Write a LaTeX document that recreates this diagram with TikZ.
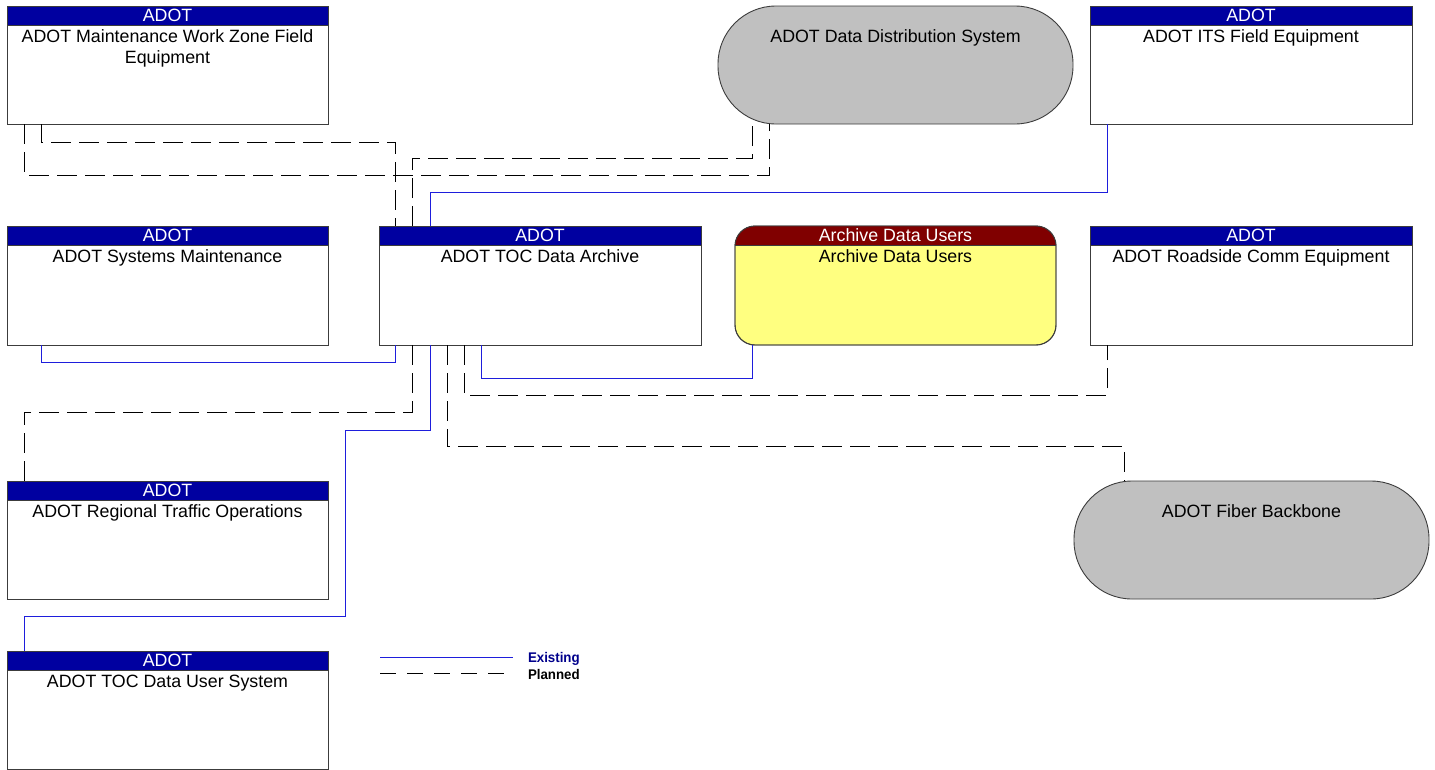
\documentclass[tikz,border=0pt]{standalone}
\usepackage{fontspec}
\setmainfont{Liberation Sans}
\usetikzlibrary{calc}
\definecolor{hdrblue}{RGB}{0,0,160}
\definecolor{hdrred}{RGB}{128,0,0}
\definecolor{yel}{RGB}{255,255,128}
\definecolor{gry}{RGB}{192,192,192}
\definecolor{bord}{RGB}{60,60,60}
\definecolor{linkblue}{RGB}{30,30,220}
\definecolor{legblue}{RGB}{0,0,140}
\begin{document}
\begin{tikzpicture}[x=1pt,y=-1pt,
  every node/.style={inner sep=0pt,outer sep=0pt},
  box/.style={draw=bord,line width=0.9pt,fill=white,anchor=north west,minimum width=#1,minimum height=118pt},
  box/.default=321pt,
  pill/.style={draw=bord,line width=0.9pt,fill=gry,anchor=north west,minimum width=355pt,minimum height=118pt,rounded corners=58pt},
  hdr/.style={draw=bord,line width=0.9pt,fill=hdrblue,anchor=north west,minimum width=#1,minimum height=19pt},
  hdr/.default=321pt,
  hdrtxt/.style={text=white,font=\fontsize{17.8}{21}\selectfont,anchor=base},
  txt/.style={font=\fontsize{17.8}{21}\selectfont,anchor=base,align=center},
  existing/.style={draw=linkblue,line width=0.8pt},
  planned/.style={draw=black,line width=0.8pt,dash pattern=on 20pt off 8pt},
  legtxt/.style={font=\fontsize{14}{14}\selectfont\bfseries,anchor=west}
]
\useasboundingbox (0,0) rectangle (1435,769);
\fill[white] (0,0) rectangle (1435,769);

% nodes
\node[box] (wz) at (7,6) {};
\node[pill] (dds) at (718,6) {};
\node[box=322pt] (its) at (1090,6) {};
\node[box,minimum height=119pt] (sm) at (7,226) {};
\node[box=322pt,minimum height=119pt] (toc) at (379,226) {};
\node[draw=bord,line width=0.9pt,fill=yel,anchor=north west,minimum width=321pt,minimum height=119pt,rounded corners=20pt] (adu) at (735,226) {};
\node[box=322pt,minimum height=119pt] (rc) at (1090,226) {};
\node[box] (rto) at (7,481) {};
\node[pill] (fb) at (1074,481) {};
\node[box] (tus) at (7,651) {};

% headers
\node[hdr] (wzh) at (wz.north west) {};
\node[hdr=322pt] (itsh) at (its.north west) {};
\node[hdr] (smh) at (sm.north west) {};
\node[hdr=322pt] (toch) at (toc.north west) {};
\node[hdr=322pt] (rch) at (rc.north west) {};
\node[hdr] (rtoh) at (rto.north west) {};
\node[hdr] (tush) at (tus.north west) {};
\begin{scope}
  \clip[rounded corners=20pt] (adu.north west) rectangle (adu.south east);
  \fill[hdrred] (adu.north west) rectangle ($(adu.north east)+(0,19)$);
\end{scope}
\draw[bord,line width=0.9pt,rounded corners=20pt] (adu.north west) rectangle (adu.south east);
\draw[bord,line width=0.9pt] ($(adu.north west)+(0,19)$) -- ($(adu.north east)+(0,19)$);

% header texts
\node[hdrtxt] (wzht) at ($(wz.north)+(0,15)$) {ADOT};
\node[hdrtxt] (itsht) at ($(its.north)+(0,15)$) {ADOT};
\node[hdrtxt] (smht) at ($(sm.north)+(0,15)$) {ADOT};
\node[hdrtxt] (tocht) at ($(toc.north)+(0,15)$) {ADOT};
\node[hdrtxt] (aduht) at ($(adu.north)+(0,15)$) {Archive Data Users};
\node[hdrtxt] (rcht) at ($(rc.north)+(0,15)$) {ADOT};
\node[hdrtxt] (rtoht) at ($(rto.north)+(0,15)$) {ADOT};
\node[hdrtxt] (tusht) at ($(tus.north)+(0,15)$) {ADOT};

% body texts
\node[txt] (wzt1) at ($(wz.north)+(0,36)$) {ADOT Maintenance Work Zone Field};
\node[txt] (wzt2) at ($(wz.north)+(0,57.5)$) {Equipment};
\node[txt] (ddst) at ($(dds.north)+(0,36)$) {ADOT Data Distribution System};
\node[txt] (itst) at ($(its.north)+(0,36)$) {ADOT ITS Field Equipment};
\node[txt] (smt) at ($(sm.north)+(0,36)$) {ADOT Systems Maintenance};
\node[txt] (toct) at ($(toc.north)+(0,36)$) {ADOT TOC Data Archive};
\node[txt] (adut) at ($(adu.north)+(0,36)$) {Archive Data Users};
\node[txt] (rct) at ($(rc.north)+(0,36)$) {ADOT Roadside Comm Equipment};
\node[txt] (rtot) at ($(rto.north)+(0,36)$) {ADOT Regional Traffic Operations};
\node[txt] (fbt) at ($(fb.north)+(0,36)$) {ADOT Fiber Backbone};
\node[txt] (tust) at ($(tus.north)+(0,36)$) {ADOT TOC Data User System};

% ---------- connectors ----------
\draw[planned] (41,0 |- wz.south) -- (41,142) -- (395,142) -- (395,0 |- toc.north);
\draw[planned] (24,0 |- wz.south) -- (24,175) -- (769,175) -- (769,0 |- dds.south);
\draw[planned] (412,0 |- toc.north) -- (412,158) -- (752,158) -- (752,0 |- dds.south);
\draw[existing] (430,0 |- toc.north) -- (430,192) -- (1107,192) -- (1107,0 |- its.south);
\draw[existing] (41,0 |- sm.south) -- (41,362) -- (395,362) -- (395,0 |- toc.south);
\draw[planned] (412,0 |- toc.south) -- (412,412) -- (24,412) -- (24,0 |- rto.north);
\draw[existing] (430,0 |- toc.south) -- (430,430) -- (345,430) -- (345,616) -- (24,616) -- (24,0 |- tus.north);
\draw[planned] (447,0 |- toc.south) -- (447,446) -- (1124,446) -- (1124,0 |- fb.north);
\draw[planned] (464,0 |- toc.south) -- (464,395) -- (1107,395) -- (1107,0 |- rc.south);
\draw[existing] (481,0 |- toc.south) -- (481,378) -- (752,378) -- (752,0 |- adu.south);

% ---------- legend ----------
\coordinate (le1) at (380,657);
\coordinate (le2) at (513,657);
\coordinate (lp1) at (380,673);
\coordinate (lp2) at (513,673);
\draw[existing] (le1) -- (le2);
\draw[planned,dash pattern=on 16pt off 11pt] (lp1) -- (lp2);
\node[legtxt,text=legblue,xscale=0.95] (lex) at (528,659) {Existing};
\node[legtxt,xscale=0.95] (lpl) at (528,674) {Planned};
\end{tikzpicture}
\end{document}
